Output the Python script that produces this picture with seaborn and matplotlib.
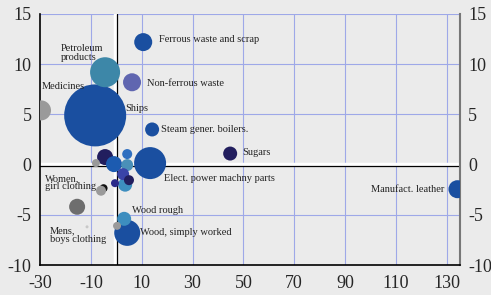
import matplotlib
matplotlib.use("Agg")
import matplotlib.pyplot as plt
import seaborn as sns
import pandas as pd

# ---- data ----
products = ["Ships", "Elect. power machny parts", "Petroleum products", "Wood, simply worked",
            "Medicines", "Ferrous waste and scrap", "Non-ferrous waste", "Manufact. leather",
            "Dark gray", "Navy A", "Blue A", "Sugars", "Steam gener. boilers.", "Wood rough",
            "Teal B", "Teal A", "Purple A", "Black A", "Women, girl clothing", "Light blue A", "Navy B",
            "Gray A", "Navy C", "Gray B", "Mens, boys clothing"]
x_growth = [-8.3, 13.3, -4.4, 4.3, -29.6, 10.6, 6.2, 134.2,
            -15.4, -4.4, -0.9, 44.8, 14.1, 3.1,
            3.5, 4.3, 2.7, -5.0, -6.0, 4.3, 5.0,
            0.3, -0.5, -8.0, -11.5]
y_growth = [4.9, 0.15, 9.2, -6.8, 5.4, 12.2, 8.2, -2.45,
            -4.2, 0.75, 0.05, 1.1, 3.5, -5.4,
            -2.0, -0.05, -0.95, -2.35, -2.6, 1.05, -1.55,
            -6.1, -1.85, 0.15, -6.2]
radius_px = [31, 16, 15, 13, 10, 9, 9, 9,
             8, 8, 8, 7, 7, 7,
             7, 6, 6, 4, 5, 5, 5,
             4, 4, 4, 1.5]
colors = ["#1a4fa0", "#1a4fa0", "#3d87a8", "#1a4fa0", "#9a9a9a", "#1a4fa0", "#6066b0", "#1a4fa0",
          "#6e6e6e", "#221e5e", "#1c5bb0", "#221e5e", "#1a4fa0", "#3d8ebf",
          "#3d8ebf", "#4a90b8", "#3a44a8", "#111111", "#9a9a9a", "#2f6fc0", "#221e5e",
          "#9a9a9a", "#2a2a8a", "#9a9a9a", "#c8c8c8"]

labels = ["Ferrous waste and scrap", "Petroleum\nproducts", "Non-ferrous waste", "Medicines", "Ships",
          "Steam gener. boilers.", "Sugars", "Elect. power machny parts", "Manufact. leather",
          "Women,\ngirl clothing", "Wood rough", "Wood, simply worked", "Mens,\nboys clothing"]
label_x = [16.9, -21.7, 12.1, -29.2, 3.5, 17.6, 49.5, 18.8, 129.0, -28.0, 6.2, 9.4, -26.1]
label_y = [12.5, 11.1, 8.1, 7.8, 5.6, 3.5, 1.25, -1.35, -2.45, -1.8, -4.6, -6.8, -7.0]
label_ha = ["left"] * 8 + ["right"] + ["left"] * 4

xticks = [-30, -10, 10, 30, 50, 70, 90, 110, 130]
yticks = [-10, -5, 0, 5, 10, 15]

# ---- figure ----
dpi = 100
px_per_pt = dpi / 72.0
sizes_area = [(2 * r / px_per_pt) ** 2 for r in radius_px]
df = pd.DataFrame({"product": products, "x": x_growth, "y": y_growth, "s": sizes_area})

bg = "#ebebeb"
grid_c = "#9ea8e8"
sns.set_style("white")
plt.rcParams["font.family"] = ["Liberation Serif", "DejaVu Serif"]

fig = plt.figure(figsize=(4.91, 2.95), dpi=dpi, facecolor=bg)
ax = fig.add_axes([40 / 491, 30 / 295, 420 / 491, 251 / 295])
ax.set_facecolor(bg)

ax.set_xlim(-30, 135.2)
ax.set_ylim(-10, 15)

for gx in xticks[1:]:
    ax.axvline(gx, color=grid_c, lw=0.8, zorder=0)
for gy in [-5, 5, 10, 15]:
    ax.axhline(gy, color=grid_c, lw=0.8, zorder=0)

# zero lines
ax.axvline(-0.5, color="white", lw=2.5, zorder=1)
ax.axvline(0.2, color="black", lw=0.9, zorder=1.1)
ax.axhline(0.1, color="white", lw=2.5, zorder=1)
ax.axhline(-0.1, color="black", lw=0.9, zorder=1.1)

sns.scatterplot(data=df, x="x", y="y", hue="product", palette=colors, size="s",
                sizes=(min(sizes_area), max(sizes_area)), legend=False,
                linewidth=0, alpha=1, ax=ax, zorder=3)

for t, lx, ly, ha in zip(labels, label_x, label_y, label_ha):
    ax.text(lx, ly, t, ha=ha, va="center", fontsize=7.5, color="#222222",
            linespacing=0.95, zorder=4)

ax.set_xticks(xticks)
ax.set_yticks(yticks)
ax.set_xticklabels([str(v) for v in xticks])
ax.set_yticklabels([str(v) for v in yticks])
ax.tick_params(axis="x", direction="out", length=5, width=1.2, color="black",
               labelsize=13, pad=2)
ax.tick_params(axis="y", length=0, labelsize=13, pad=6, labelright=True, labelleft=True)
ax.set_xlabel("")
ax.set_ylabel("")

ax.spines["top"].set_visible(False)
ax.spines["left"].set_color("black")
ax.spines["left"].set_linewidth(1.2)
ax.spines["bottom"].set_color("black")
ax.spines["bottom"].set_linewidth(1.2)
ax.spines["right"].set_color("#777777")
ax.spines["right"].set_linewidth(1.5)

fig.savefig("out.png", dpi=dpi, facecolor=bg)
